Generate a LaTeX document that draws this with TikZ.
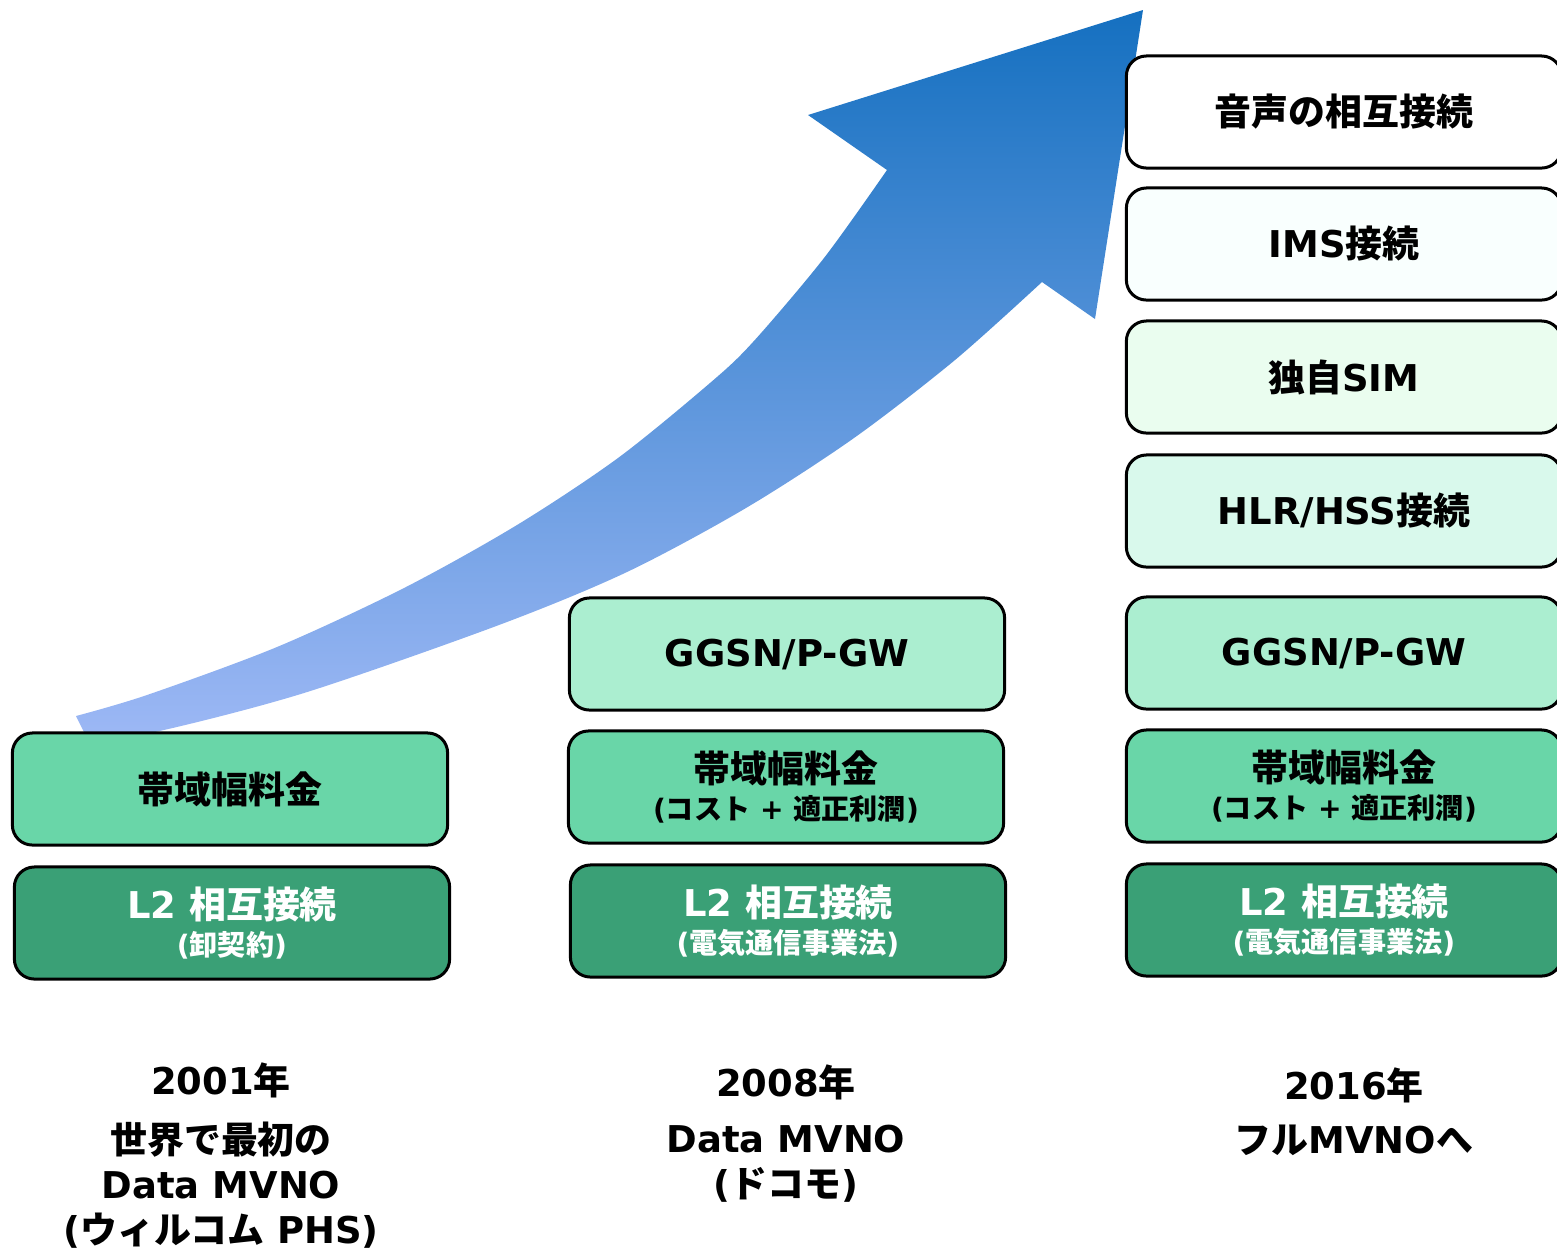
\documentclass[tikz,border=0pt]{standalone}
\usepackage{fontspec}
\setmainfont{DejaVu Sans}
\newfontfamily\jp{Noto Sans CJK JP}
\newcommand{\jt}[1]{{\jp #1}}
\newcommand{\subl}[1]{{\fontsize{8}{9}\selectfont #1}}
\definecolor{arrowtop}{RGB}{21,112,192}
\definecolor{arrowbot}{RGB}{157,184,245}
\definecolor{imsfill}{RGB}{249,255,254}
\definecolor{simfill}{RGB}{234,253,239}
\definecolor{hlrfill}{RGB}{217,249,236}
\definecolor{gwfill}{RGB}{171,238,208}
\definecolor{feefill}{RGB}{105,214,168}
\definecolor{ltwofill}{RGB}{58,160,118}
\begin{document}
\begin{tikzpicture}[x=0.01cm,y=-0.01cm]
    \tikzstyle{box}=[draw,line width=0.03cm,rounded corners=0.2cm,minimum width=4.35cm,minimum height=1.12cm,align=center,font=\bfseries\fontsize{10.5}{12}\selectfont]
    \tikzstyle{year}=[align=center,font=\bfseries\fontsize{10.5}{12.8}\selectfont]
    \useasboundingbox (0,0) rectangle (1557,1250);

    \shade[top color=arrowtop,bottom color=arrowbot]
      plot[smooth] coordinates {(76,716) (147,695) (277,647) (404,588) (517,525) (618,458) (710,383) (753,342) (824,258) (887,170)}
      -- (808,115) -- (1143,10) -- (1095,319) -- (1042,282)
      -- plot[smooth] coordinates {(1042,282) (955,360) (854,438) (746,508) (627,572) (499,625) (304,693) (155,732) (88,740)}
      -- cycle;

      \node (fee1) at (230,789) [box,fill=feefill] {\jt{帯域幅料金}};
      \node (ltwo1) at (232,923) [box,fill=ltwofill,text=white] {L2 \jt{相互接続}\\[-1.5pt]\subl{(\jt{卸契約})}};

      \node (gw2) at (787,654) [box,fill=gwfill] {GGSN/P-GW};
      \node (fee2) at (786,787) [box,fill=feefill] {\jt{帯域幅料金}\\[-1.5pt]\subl{(\jt{コスト} + \jt{適正利潤})}};
      \node (ltwo2) at (788,921) [box,fill=ltwofill,text=white] {L2 \jt{相互接続}\\[-1.5pt]\subl{(\jt{電気通信事業法})}};

      \node (voice3) at (1344,112) [box,fill=white] {\jt{音声の相互接続}};
      \node (ims3) at (1344,244) [box,fill=imsfill] {IMS\jt{接続}};
      \node (sim3) at (1344,377) [box,fill=simfill] {\jt{独自}SIM};
      \node (hlr3) at (1344,511) [box,fill=hlrfill] {HLR/HSS\jt{接続}};
      \node (gw3) at (1344,653) [box,fill=gwfill] {GGSN/P-GW};
      \node (fee3) at (1344,786) [box,fill=feefill] {\jt{帯域幅料金}\\[-1.5pt]\subl{(\jt{コスト} + \jt{適正利潤})}};
      \node (ltwo3) at (1344,920) [box,fill=ltwofill,text=white] {L2 \jt{相互接続}\\[-1.5pt]\subl{(\jt{電気通信事業法})}};

      \node (y2001) at (221,1080) [year] {2001\jt{年}};
      \node (d2001) at (221,1185) [year] {\jt{世界で最初の}\\Data MVNO\\(\jt{ウィルコム} PHS)};
      \node (y2008) at (786,1082) [year] {2008\jt{年}};
      \node (d2008) at (786,1164) [year] {Data MVNO\\(\jt{ドコモ})};
      \node (y2016) at (1354,1085) [year] {2016\jt{年}};
      \node (d2016) at (1354,1140) [year] {\jt{フル}MVNO\jt{へ}};
\end{tikzpicture}
\end{document}
